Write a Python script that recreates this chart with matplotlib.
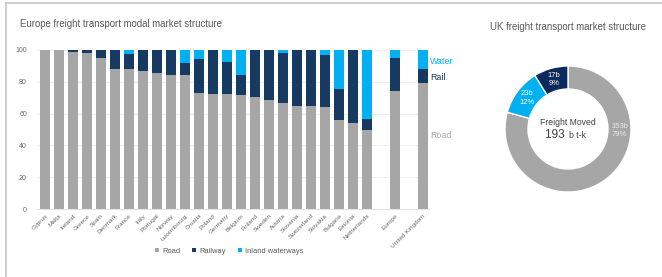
import numpy as np
import matplotlib
matplotlib.use('Agg')
import matplotlib.pyplot as plt
from matplotlib.lines import Line2D

plt.rcParams['font.family'] = ['Liberation Sans', 'DejaVu Sans']

# Europe modal split (% of tonne-km)
countries = ['Cyprus', 'Malta', 'Ireland', 'Greece', 'Spain', 'Denmark', 'France', 'Italy',
             'Portugal', 'Norway', 'Luxembourg', 'Croatia', 'Poland', 'Germany', 'Belgium',
             'Finland', 'Sweden', 'Austria', 'Slovenia', 'Switzerland', 'Slovakia', 'Bulgaria',
             'Estonia', 'Netherlands', 'Europe', 'United Kingdom']
road = [100, 100, 99, 98, 95, 88, 88, 86.5, 85.5, 84.5, 84, 73, 72.5, 72.5, 72, 70.5,
        68.5, 66.5, 64.5, 65, 64, 56, 54, 50, 74, 79]
rail = [0, 0, 1, 2, 5, 12, 9.5, 13.5, 14.5, 15.5, 8, 21.5, 27.5, 20, 12, 29.5,
        31.5, 31.5, 35.5, 35, 33, 19.5, 46, 6.5, 21, 9]
water = [0, 0, 0, 0, 0, 0, 2.5, 0, 0, 0, 8, 5.5, 0, 7.5, 16, 0,
         0, 2, 0, 0, 3, 24.5, 0, 43.5, 5, 12]

# UK freight moved (billion tonne-km)
uk_labels = ['Road', 'Water', 'Rail']
uk_values = [153, 23, 17]
uk_pct = [79, 12, 9]

c_road = '#a6a6a6'
c_rail = '#173a63'
c_water = '#00b0f0'
c_rail_dark = '#0c2a5e'
c_text = '#595959'

fig = plt.figure(figsize=(6.62, 2.77), dpi=100)

# frame lines of the panel
fig.add_artist(Line2D([6 / 662, 1], [1 - 3 / 277, 1 - 3 / 277], color='#cfcfcf', lw=1.5))
fig.add_artist(Line2D([6 / 662, 6 / 662], [0, 1 - 3 / 277], color='#cfcfcf', lw=1.5))

# ---- left: stacked bars
ax = fig.add_axes([36.6 / 662, 68 / 277, 392.7 / 662, 159 / 277])
pos = np.array(list(range(24)) + [25, 27])
road_a = np.array(road)
rail_a = np.array(rail)
water_a = np.array(water)
ax.bar(pos, road_a, 0.7, color=c_road, label='Road', zorder=2)
ax.bar(pos, rail_a, 0.7, bottom=road_a, color=c_rail, label='Railway', zorder=2)
ax.bar(pos, water_a, 0.7, bottom=road_a + rail_a, color=c_water, label='Inland waterways', zorder=2)

ax.set_xlim(-0.6, 27.45)
ax.set_ylim(0, 100)
ax.set_yticks([0, 20, 40, 60, 80, 100])
ax.yaxis.grid(True, color='#ececec', lw=0.6, zorder=0)
ax.set_xticks(pos)
ax.set_xticklabels(countries, rotation=45, ha='right', rotation_mode='anchor',
                   fontsize=4.6, color='#6a6a6a')
ax.tick_params(axis='y', labelsize=5, colors='#6a6a6a', length=0, pad=7)
ax.tick_params(axis='x', length=0, pad=3)
for s in ['top', 'right', 'left']:
    ax.spines[s].set_visible(False)
ax.spines['bottom'].set_color('#e3e3e3')
ax.spines['bottom'].set_linewidth(0.8)

leg = ax.legend(loc='center', bbox_to_anchor=(0.49, -0.265), ncol=3, frameon=False,
                fontsize=5.4, handlelength=0.55, handleheight=0.55, handletextpad=0.4,
                columnspacing=1.6)
for t in leg.get_texts():
    t.set_color(c_text)

fig.text(20 / 662, 1 - 24 / 277, 'Europe freight transport modal market structure',
         fontsize=6.9, color=c_text, va='center', ha='left')
fig.text(430 / 662, 1 - 61 / 277, 'Water', fontsize=6.4, color=c_water, va='center')
fig.text(430 / 662, 1 - 78 / 277, 'Rail', fontsize=6.4, color=c_rail, va='center')
fig.text(430 / 662, 1 - 135 / 277, 'Road', fontsize=6.4, color=c_road, va='center')

# ---- right: UK donut
r = 63
pax = fig.add_axes([(568 - r) / 662, (277 - 129 - r) / 277, 2 * r / 662, 2 * r / 277])
wedges, _ = pax.pie(uk_values, colors=[c_road, c_water, c_rail_dark], startangle=90,
                    counterclock=False, radius=1.0,
                    wedgeprops=dict(width=0.365, edgecolor='white', linewidth=1.0))
pax.set_xlim(-1, 1)
pax.set_ylim(-1, 1)
pax.set_aspect('equal')

lab_cols = ['#e8e8e8', 'white', 'white']
for i, w in enumerate(wedges):
    if i == 0:
        ang = np.deg2rad(-2)
    else:
        ang = np.deg2rad((w.theta1 + w.theta2) / 2)
    rr = 0.82
    pax.text(rr * np.cos(ang), rr * np.sin(ang), '%db\n%d%%' % (uk_values[i], uk_pct[i]),
             ha='center', va='center', fontsize=5.5, color=lab_cols[i], linespacing=1.25)

pax.text(0, 0.1, 'Freight Moved', ha='center', va='center', fontsize=6.2, color='#404040')
pax.text(0.0, -0.1, '%d ' % sum(uk_values), ha='right', va='center', fontsize=8.5, color='#404040')
pax.text(0.02, -0.11, 'b t-k', ha='left', va='center', fontsize=6.2, color='#404040')

fig.text(568 / 662, 1 - 27 / 277, 'UK freight transport market structure',
         fontsize=6.9, color=c_text, va='center', ha='center')

fig.savefig('out.png', dpi=100)
